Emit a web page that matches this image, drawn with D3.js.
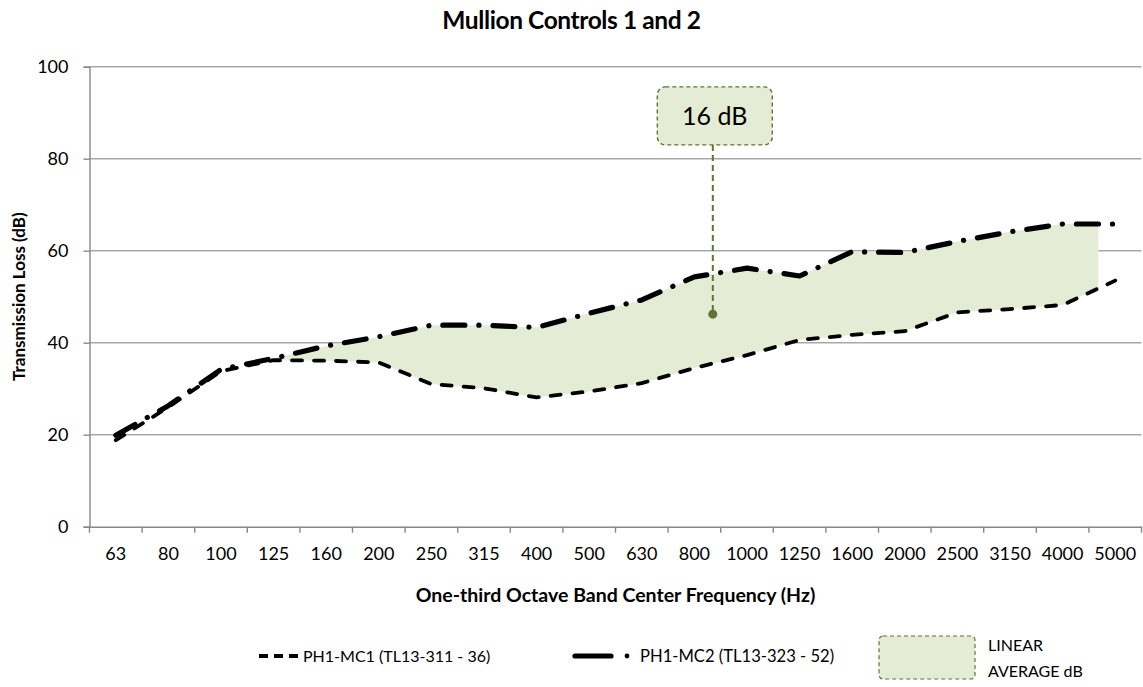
<!DOCTYPE html>
<html>
<head>
<meta charset="utf-8">
<script src="https://cdn.jsdelivr.net/npm/d3@7"></script>
<style>
  body { margin: 0; background: #fff; }
  text { font-family: Lato, "Open Sans", sans-serif; fill: #000; }
</style>
</head>
<body>
<svg id="chart" width="1143" height="687"></svg>
<script>
// One-third octave band centre frequencies (Hz)
const frequencies = ["63", "80", "100", "125", "160", "200", "250", "315", "400", "500",
  "630", "800", "1000", "1250", "1600", "2000", "2500", "3150", "4000", "5000"];

// Transmission loss (dB) per band
const mc1Values = [18.8, 26.0, 33.8, 36.2, 36.1, 35.7, 31.0, 30.1, 28.1, 29.4,
  31.2, 34.5, 37.3, 40.6, 41.7, 42.5, 46.6, 47.3, 48.2, 53.5];
const mc2Values = [19.9, 26.3, 34.2, 36.6, 39.3, 41.3, 43.8, 43.8, 43.3, 46.4,
  49.3, 54.3, 56.2, 54.5, 59.8, 59.6, 62.0, 64.1, 65.8, 65.8];

const yTicks = [0, 20, 40, 60, 80, 100];

const seriesNames = ["PH1-MC1 (TL13-311 - 36)", "PH1-MC2 (TL13-323 - 52)"];
const areaLegend = ["LINEAR", "AVERAGE dB"];

// Difference band between the two assemblies
const shadedFrom = "125";
const shadedTo = "5000";

// Callout for the linear average improvement
const averageLabel = "16 dB";
const averageBand = 11.35;   // fractional band index
const averageValue = 46.2;   // dB
const calloutValue = 89.3;   // dB level of the callout box centre

const chartTitle = "Mullion Controls 1 and 2";
const xTitle = "One-third Octave Band Center Frequency (Hz)";
const yTitle = "Transmission Loss (dB)";

const svg = d3.select("#chart");
const W = 1143, H = 687;
const plot = { left: 89.5, right: 1141.5, top: 66.7, bottom: 526.7 };

const x = d3.scaleBand().domain(frequencies).range([plot.left, plot.right]);
const bw = x.bandwidth();
const cx = f => x(f) + bw / 2;
const xAt = i => plot.left + bw * (i + 0.5);
const y = d3.scaleLinear().domain([0, 100]).range([plot.bottom, plot.top]);

const green = "#e4ecd6";
const olive = "#5f7532";
const axisGrey = "#888888";
const gridGrey = "#a8a8a8";

// Title
svg.append("text")
  .attr("x", W / 2).attr("y", 29)
  .attr("text-anchor", "middle")
  .style("font-weight", "bold").style("font-size", "24.5px")
  .style("letter-spacing", "-0.4px")
  .text(chartTitle);

// Gridlines
svg.append("g").selectAll("line").data(yTicks.filter(t => t > 0)).join("line")
  .attr("x1", plot.left).attr("x2", plot.right)
  .attr("y1", d => y(d)).attr("y2", d => y(d))
  .attr("stroke", gridGrey).attr("stroke-width", 1.4);

// Shaded difference band
const rows = frequencies.map((f, i) => ({ f, lo: mc1Values[i], hi: mc2Values[i] }));
const i0 = frequencies.indexOf(shadedFrom), i1 = frequencies.indexOf(shadedTo);
const areaRows = rows.slice(i0, i1 + 1);
svg.append("clipPath").attr("id", "bandClip")
  .append("rect")
  .attr("x", cx(shadedFrom)).attr("y", plot.top)
  .attr("width", cx(shadedTo) - bw * 0.32 - cx(shadedFrom))
  .attr("height", plot.bottom - plot.top);
svg.append("path")
  .datum(areaRows)
  .attr("clip-path", "url(#bandClip)")
  .attr("fill", green)
  .attr("d", d3.area().x(d => cx(d.f)).y0(d => y(d.lo)).y1(d => y(d.hi)));

// Y axis
const yAxis = svg.append("g").attr("transform", `translate(${plot.left},0)`)
  .call(d3.axisLeft(y).tickValues(yTicks).tickSize(6).tickPadding(15));
yAxis.select(".domain").attr("stroke", axisGrey).attr("stroke-width", 1.4);
yAxis.selectAll(".tick line").attr("stroke", axisGrey).attr("stroke-width", 1.4);
yAxis.selectAll(".tick text").style("font-size", "18px").style("font-family", "Lato, sans-serif").attr("fill", "#000");

// X axis
const xAxis = svg.append("g").attr("transform", `translate(0,${plot.bottom})`)
  .call(d3.axisBottom(x).tickSize(0).tickPadding(21));
xAxis.select(".domain").attr("stroke", axisGrey).attr("stroke-width", 1.4);
xAxis.selectAll(".tick text").style("font-size", "18px").style("font-family", "Lato, sans-serif").attr("fill", "#000");
svg.append("g").selectAll("line").data(d3.range(frequencies.length + 1)).join("line")
  .attr("x1", i => plot.left + i * bw).attr("x2", i => plot.left + i * bw)
  .attr("y1", plot.bottom).attr("y2", plot.bottom + 6)
  .attr("stroke", axisGrey).attr("stroke-width", 1.4);

// Axis titles
svg.append("text")
  .attr("x", (plot.left + plot.right) / 2).attr("y", 602)
  .attr("text-anchor", "middle")
  .style("font-weight", "bold").style("font-size", "19.5px")
  .text(xTitle);
svg.append("text")
  .attr("transform", `translate(25,${(plot.top + plot.bottom) / 2}) rotate(-90)`)
  .attr("text-anchor", "middle")
  .style("font-weight", "bold").style("font-size", "17px")
  .text(yTitle);

// Series lines
const line = key => d3.line().x(d => cx(d.f)).y(d => y(d[key]));
svg.append("path").datum(rows)
  .attr("fill", "none").attr("stroke", "#000")
  .attr("stroke-width", 3.8).attr("stroke-linecap", "round").attr("stroke-linejoin", "round")
  .attr("stroke-dasharray", "10,12")
  .attr("d", line("lo"));
svg.append("path").datum(rows)
  .attr("fill", "none").attr("stroke", "#000")
  .attr("stroke-width", 5.2).attr("stroke-linecap", "round").attr("stroke-linejoin", "round")
  .attr("stroke-dasharray", "22,14,0.1,14")
  .attr("d", line("hi"));

// Average callout
const ax = xAt(averageBand);
const boxW = 115, boxH = 58;
const boxTop = y(calloutValue) - boxH / 2;
svg.append("line")
  .attr("x1", ax).attr("x2", ax)
  .attr("y1", boxTop + boxH).attr("y2", y(averageValue))
  .attr("stroke", olive).attr("stroke-width", 2).attr("stroke-dasharray", "6,4");
svg.append("circle").attr("cx", ax).attr("cy", y(averageValue)).attr("r", 4.5).attr("fill", olive);
svg.append("rect")
  .attr("x", ax - boxW / 2 + 2).attr("y", boxTop)
  .attr("width", boxW).attr("height", boxH).attr("rx", 8)
  .attr("fill", green).attr("stroke", olive).attr("stroke-width", 1.4)
  .attr("stroke-dasharray", "4,3");
svg.append("text")
  .attr("x", ax + 2).attr("y", boxTop + boxH / 2 + 9)
  .attr("text-anchor", "middle").style("font-size", "25px")
  .text(averageLabel);

// Legend
const lg = svg.append("g");
const ly = 656;
lg.append("line").attr("x1", 259).attr("x2", 298).attr("y1", ly).attr("y2", ly)
  .attr("stroke", "#000").attr("stroke-width", 3.8).attr("stroke-dasharray", "9,6");
lg.append("text").attr("x", 303).attr("y", ly + 6).style("font-size", "16px").text(seriesNames[0]);
lg.append("line").attr("x1", 575).attr("x2", 611).attr("y1", ly).attr("y2", ly)
  .attr("stroke", "#000").attr("stroke-width", 5.2).attr("stroke-linecap", "round");
lg.append("circle").attr("cx", 627).attr("cy", ly).attr("r", 2.4).attr("fill", "#000");
lg.append("text").attr("x", 640).attr("y", ly + 6).style("font-size", "16.6px").text(seriesNames[1]);
lg.append("rect").attr("x", 879).attr("y", 636).attr("width", 96).attr("height", 43).attr("rx", 4)
  .attr("fill", green).attr("stroke", olive).attr("stroke-width", 1.2).attr("stroke-dasharray", "4,3");
lg.append("text").attr("x", 988).attr("y", 651).style("font-size", "16px").text(areaLegend[0]);
lg.append("text").attr("x", 988).attr("y", 677).style("font-size", "16px").text(areaLegend[1]);
</script>
</body>
</html>
